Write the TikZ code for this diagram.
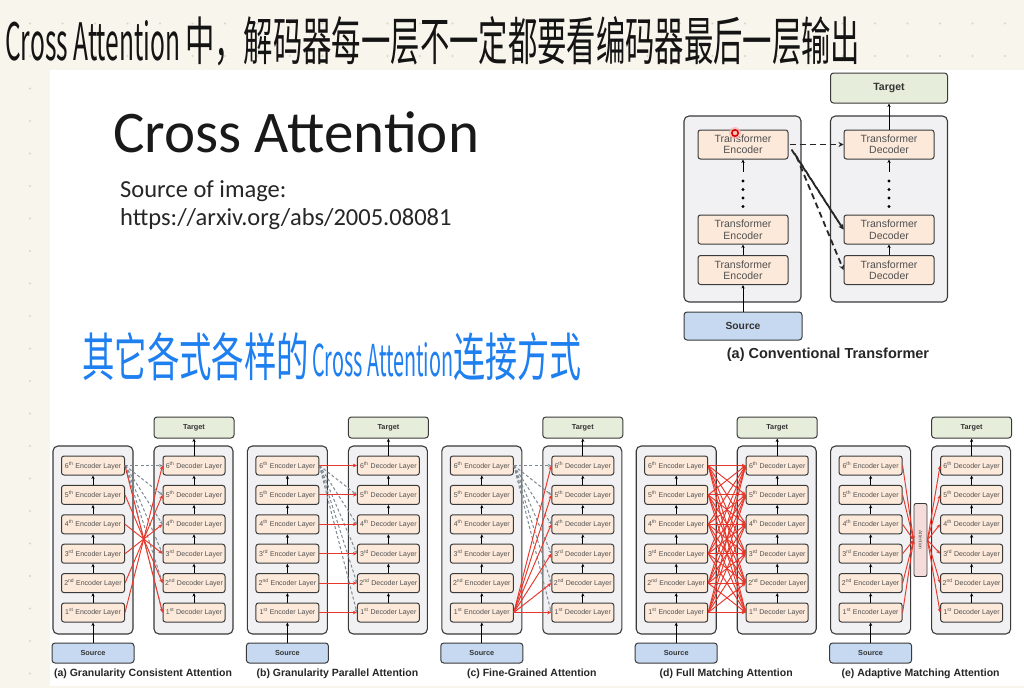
\documentclass[tikz,border=0pt]{standalone}
\usepackage{graphicx}
\usepackage{fontspec}
\setmainfont{Liberation Sans}
\newfontfamily\slidefont{Carlito}
\newfontfamily\cjk{Noto Sans CJK SC}
\usetikzlibrary{arrows.meta}
\definecolor{cream}{HTML}{F8F6EC}
\definecolor{gdot}{HTML}{D9D6C8}
\definecolor{bd}{HTML}{3A3A3A}
\definecolor{contfill}{HTML}{F1F1F3}
\definecolor{peach}{HTML}{FCE9DA}
\definecolor{tgtfill}{HTML}{E6EDDB}
\definecolor{srcfill}{HTML}{C6D9F1}
\definecolor{txt}{HTML}{505050}
\definecolor{redl}{HTML}{E8382C}
\definecolor{grayl}{HTML}{7D8A94}
\definecolor{hand}{HTML}{141414}
\definecolor{bluehand}{HTML}{1E7FF0}
\definecolor{attfill}{HTML}{F3DCDA}
\tikzset{
  cont/.style={draw=bd, fill=contfill, rounded corners=5pt, line width=1.1pt, inner sep=0pt},
  layer/.style={draw=bd, fill=peach, rounded corners=2.5pt, line width=1pt, minimum width=63pt, minimum height=19pt, inner sep=0pt, text=txt, font=\fontsize{7}{7.5}\selectfont},
  biglayer/.style={layer, minimum width=90pt, minimum height=29pt, align=center, font=\fontsize{10.5}{11.5}\selectfont},
  tgtbox/.style={draw=bd, fill=tgtfill, rounded corners=3pt, line width=1pt, inner sep=0pt, text=black!80, font=\bfseries\fontsize{7.3}{8}\selectfont},
  srcbox/.style={draw=bd, fill=srcfill, rounded corners=3pt, line width=1pt, inner sep=0pt, text=black!80, font=\bfseries\fontsize{7.3}{8}\selectfont},
  upar/.style={draw=black, line width=0.8pt, -{Stealth[length=3.5pt,width=3.2pt]}},
  redar/.style={draw=redl, line width=0.95pt, -{Stealth[length=4pt,width=3.5pt]}},
  grayar/.style={draw=grayl, line width=1pt, dash pattern=on 3pt off 2.2pt, -{Stealth[length=3.5pt,width=3pt]}},
  blkdash/.style={draw=black!85, line width=1.8pt, dash pattern=on 6pt off 4pt, -{Stealth[length=5pt,width=5pt]}},
  dotline/.style={draw=black, line width=3.2pt, line cap=round, dash pattern=on 0pt off 8.5pt, shorten <=8pt, shorten >=14pt},
  caption/.style={font=\bfseries\fontsize{10.5}{12}\selectfont, text=black!85},
  attbox/.style={draw=bd, fill=attfill, rounded corners=2pt, line width=0.9pt, minimum width=13pt, minimum height=73pt, inner sep=0pt}
}
\newcommand{\mypanel}[3]{%
  \node[cont, minimum width=80pt, minimum height=188pt] (#1lc) at ({#2+40},540) {};
  \node[cont, minimum width=79pt, minimum height=188pt] (#1rc) at ({#2+140.5},540) {};
  \foreach \k/\sfx in {1/st,2/nd,3/rd,4/th,5/th,6/th}{
    \node[layer] (#1e\k) at ({#2+40},{612.5-(\k-1)*29.4}) {\k\textsuperscript{\sfx} Encoder Layer};
    \node[layer, minimum width=62pt] (#1d\k) at ({#2+141},{612.5-(\k-1)*29.4}) {\k\textsuperscript{\sfx} Decoder Layer};
  }
  \node[tgtbox, minimum width=80pt, minimum height=21pt] (#1tgt) at ({#2+141},427.5) {Target};
  \node[srcbox, minimum width=82pt, minimum height=20pt] (#1src) at ({#2+40},653) {Source};
  \foreach \k [evaluate=\k as \j using int(\k+1)] in {1,...,5}{
    \draw[upar] (#1e\k.north) -- (#1e\j.south);
    \draw[upar] (#1d\k.north) -- (#1d\j.south);
  }
  \draw[upar] (#1src.north) -- (#1e1.south);
  \draw[upar] (#1d6.north) -- (#1tgt.south);
  \node[caption] (#1cap) at ({#2+90},674) {#3};
}
\begin{document}
\begin{tikzpicture}[x=1pt,y=-1pt]
\useasboundingbox (0,0) rectangle (1024,688);
% background
\fill[cream] (0,0) rectangle (1024,688);
\foreach \i in {0,...,31}{
  \fill[gdot] ({30+32.5*\i},23.5) circle (1.1);
  \fill[gdot] ({30+32.5*\i},56) circle (1.1);
}
\foreach \j in {2,...,20}{\fill[gdot] (30,{23.5+32.5*\j}) circle (1.1);}
\fill[white] (50,70) rectangle (1024,686);

% handwritten notes
\node[anchor=base west, inner sep=0pt, text=hand] (hw1) at (5,60)
  {\cjk\resizebox{175pt}{40pt}{Cross Attention}\hspace{5pt}\resizebox{675pt}{44pt}{中，解码器每一层不一定都要看编码器最后一层输出}};
\node[anchor=base west, inner sep=0pt, text=bluehand] (hw2) at (82,376)
  {\cjk\resizebox{227pt}{44pt}{其它各式各样的}\hspace{3pt}\resizebox{141pt}{34pt}{Cross Attention}\resizebox{128pt}{44pt}{连接方式}};

% slide text
\node[anchor=base west, inner sep=0pt, font=\slidefont\fontsize{59}{60}\selectfont, text=black!90] (stitle) at (113,152) {Cross Attention};
\node[anchor=base west, inner sep=0pt, font=\slidefont\fontsize{24.5}{29}\selectfont, text=black!85] (ssrc) at (120,197) {Source of image:};
\node[anchor=base west, inner sep=0pt, font=\slidefont\fontsize{24.5}{29}\selectfont, text=black!85] (surl) at (120,225) {https://arxiv.org/abs/2005.08081};

% conventional transformer
\node[tgtbox, font=\bfseries\fontsize{10.5}{12}\selectfont, minimum width=117pt, minimum height=30pt] (ttgt) at (889,88) {Target};
\node[cont, minimum width=117pt, minimum height=186pt] (tlc) at (742.5,209) {};
\node[cont, minimum width=117pt, minimum height=186pt] (trc) at (889,209) {};
\node[biglayer] (tenc3) at (743,144.5) {Transformer\\Encoder};
\node[biglayer] (tenc2) at (743,229.5) {Transformer\\Encoder};
\node[biglayer] (tenc1) at (743,270) {Transformer\\Encoder};
\node[biglayer] (tdec3) at (889,144.5) {Transformer\\Decoder};
\node[biglayer] (tdec2) at (889,229.5) {Transformer\\Decoder};
\node[biglayer] (tdec1) at (889,270) {Transformer\\Decoder};
\node[srcbox, font=\bfseries\fontsize{10.3}{12}\selectfont, minimum width=118pt, minimum height=28pt] (tsrc) at (743,326) {Source};
\draw[upar] (tsrc.north) -- (tenc1.south);
\draw[upar] (tenc1.north) -- (tenc2.south);
\draw[dotline] (tenc2.north) -- (tenc3.south);
\draw[upar] ([yshift=-12pt]tenc3.south) -- (tenc3.south);
\draw[upar] (tdec1.north) -- (tdec2.south);
\draw[dotline] (tdec2.north) -- (tdec3.south);
\draw[upar] ([yshift=-12pt]tdec3.south) -- (tdec3.south);
\draw[upar] (tdec3.north) -- (ttgt.south);
\draw[blkdash] ([xshift=1pt]tenc3.east) -- (tdec3.west);
\draw[blkdash] ([xshift=3pt,yshift=-5pt]tenc3.east) -- (tdec2.west);
\draw[blkdash] ([xshift=6pt,yshift=-9pt]tenc3.east) -- (tdec2.west);
\draw[blkdash] ([xshift=8pt,yshift=-12pt]tenc3.east) -- (tdec1.west);
\node[font=\bfseries\fontsize{14.5}{16}\selectfont, text=black!85] (tcap) at (828,355) {(a) Conventional Transformer};
% pointer dot
\fill[red!30, opacity=0.7] (735,133) circle (6);
\draw[red!85!black, line width=1.5pt] (735,133) circle (3.2);

% bottom panels
\mypanel{a}{53}{(a) Granularity Consistent Attention}
\mypanel{b}{247.4}{(b) Granularity Parallel Attention}
\mypanel{c}{441.8}{(c) Fine-Grained Attention}
\mypanel{d}{636.2}{(d) Full Matching Attention}
\mypanel{e}{830.6}{(e) Adaptive Matching Attention}

% (a)
\foreach \k in {1,...,6}{\draw[grayar] (ae6.east) -- (ad\k.west);}
\foreach \k [evaluate=\k as \j using int(7-\k)] in {1,...,6}{\draw[redar] (ae\k.east) -- (ad\j.west);}
% (b)
\foreach \k in {1,...,6}{\draw[grayar] (be6.east) -- (bd\k.west);}
\foreach \k in {1,...,6}{\draw[redar] (be\k.east) -- (bd\k.west);}
% (c)
\foreach \k in {1,...,6}{\draw[grayar] (ce6.east) -- (cd\k.west);}
\foreach \k in {1,...,6}{\draw[redar] (ce1.east) -- (cd\k.west);}
% (d)
\foreach \k in {1,...,6}{\foreach \m in {1,...,6}{\draw[redar] (de\k.east) -- (dd\m.west);}}
% (e)
\node[attbox] (eatt) at (920.5,540) {\rotatebox{-90}{\fontsize{4.8}{5}\selectfont\color{txt}Attention}};
\foreach \k in {1,...,6}{
  \draw[redar] (ee\k.east) -- (eatt.west);
  \draw[redar] (eatt.east) -- (ed\k.west);
}
\end{tikzpicture}
\end{document}
